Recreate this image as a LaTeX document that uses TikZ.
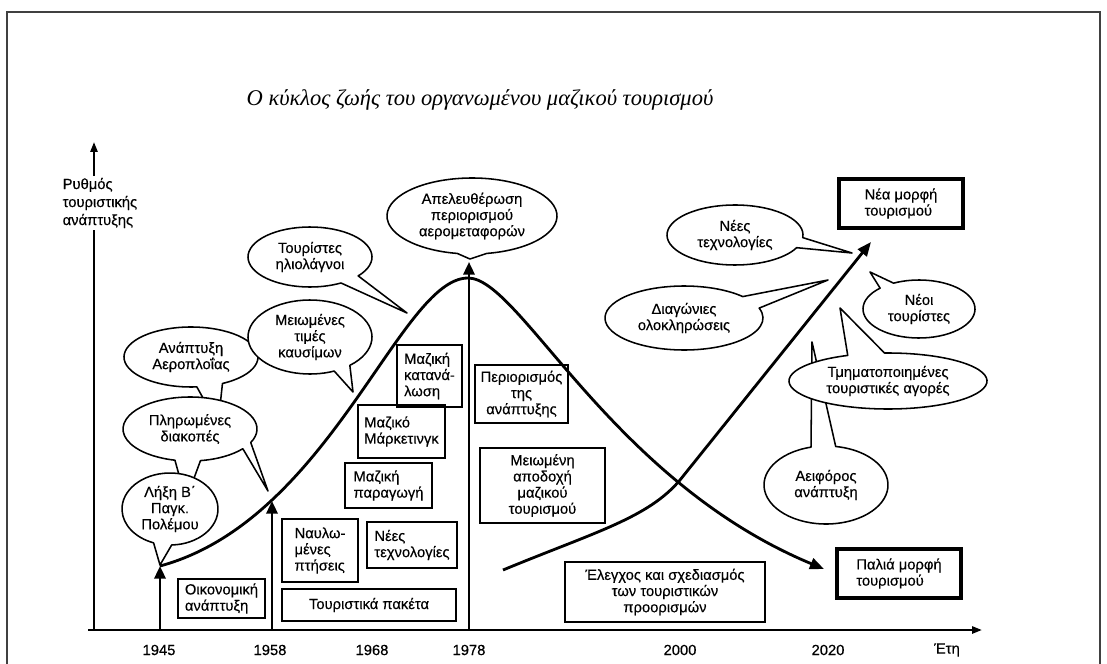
\documentclass[tikz,border=0pt]{standalone}
\usepackage{fontspec}
\setmainfont{Liberation Sans}[FakeBold=0.3]
\newfontfamily\titlefont{Liberation Serif}
\usetikzlibrary{arrows.meta,calc}

\begin{document}
\begin{tikzpicture}[
        x=0.25mm, y=0.25mm,
        font=\fontsize{10.5}{11.5}\selectfont,
        box/.style={rectangle, draw, line width=1.1pt, align=left, inner sep=2pt},
        bigbox/.style={rectangle, draw, line width=3pt, align=left, inner sep=2pt, minimum width=31mm, minimum height=12.25mm},
        bubble/.style={draw, fill=white, line width=1.1pt, line join=round},
        bubtext/.style={align=center, inner sep=0pt},
        year/.style={inner sep=0pt},
        axis/.style={line width=1.6pt, -{Triangle[length=7pt,width=5pt]}},
        event/.style={line width=1.8pt, -{Triangle[length=9pt,width=8pt]}},
        curve/.style={line width=2pt, -{Triangle[length=10pt,width=8pt]}}
    ]
        \useasboundingbox (0,0) rectangle (1107,-664);

        % Frame and title
        \draw[line width=0.8pt, black!75] (7,-664) -- (7,-12) -- (1100,-12) -- (1100,-664);
        \node[font=\titlefont\itshape\fontsize{16}{19}\selectfont] (title) at (480,-100) {Ο κύκλος ζωής του οργανωμένου μαζικού τουρισμού};

        % Left bubbles
        \coordinate (airc) at (191,-357);
        \path[bubble] ($(airc)+(-62:16.75mm and 7.5mm)$) arc[start angle=-62, end angle=275, x radius=16.75mm, y radius=7.5mm] -- (218,-425) -- cycle;
        \node[bubtext] (air) at (airc) {Ανάπτυξη\\Αεροπλοΐας};

        \coordinate (fuelc) at (310,-337);
        \path[bubble] ($(fuelc)+(-50:15.5mm and 9.25mm)$) arc[start angle=-50, end angle=293, x radius=15.5mm, y radius=9.25mm] -- (353,-392) -- cycle;
        \node[bubtext] (fuel) at (fuelc) {Μειωμένες\\τιμές\\καυσίμων};

        \coordinate (paidc) at (190,-429);
        \path[bubble] ($(paidc)+(-25:16.75mm and 8mm)$) arc[start angle=-25, end angle=257, x radius=16.75mm, y radius=8mm] -- (186,-500)
            -- ($(paidc)+(-81:16.75mm and 8mm)$) arc[start angle=-81, end angle=-38, x radius=16.75mm, y radius=8mm] -- (268,-491) -- cycle;
        \node[bubtext] (paid) at (paidc) {Πληρωμένες\\διακοπές};

        \coordinate (warc) at (170,-509);
        \path[bubble] ($(warc)+(-88:12mm and 9mm)$) arc[start angle=-88, end angle=250, x radius=12mm, y radius=9mm] -- (160,-565) -- cycle;
        \node[bubtext] (war) at (warc) {Λήξη Β΄\\Παγκ.\\Πολέμου};

        \coordinate (sunc) at (310,-257);
        \path[bubble] ($(sunc)+(-39:15.5mm and 7.5mm)$) arc[start angle=-39, end angle=300, x radius=15.5mm, y radius=7.5mm] -- (407,-313) -- cycle;
        \node[bubtext] (sun) at (sunc) {Τουρίστες\\ηλιολάγνοι};

        \coordinate (deregc) at (472,-216);
        \path[bubble] ($(deregc)+(-80:21.25mm and 9.5mm)$) arc[start angle=-80, end angle=260, x radius=21.25mm, y radius=9.5mm] -- (470,-259) -- cycle;
        \node[bubtext] (dereg) at (deregc) {Απελευθέρωση\\περιορισμού\\αερομεταφορών};

        % Right bubbles
        \coordinate (sustc) at (826,-485);
        \path[bubble] ($(sustc)+(104:15.5mm and 9.75mm)$) arc[start angle=104, end angle=441, x radius=15.5mm, y radius=9.75mm] -- (812,-342) -- cycle;
        \node[bubtext] (sust) at (sustc) {Αειφόρος\\ανάπτυξη};

        \coordinate (segc) at (888,-381);
        \path[bubble] ($(segc)+(114:24.75mm and 7mm)$) arc[start angle=114, end angle=452, x radius=24.75mm, y radius=7mm] -- (840,-308) -- cycle;
        \node[bubtext] (seg) at (segc) {Τμηματοποιημένες\\τουριστικές αγορές};

        \coordinate (techc) at (735,-235);
        \path[bubble] ($(techc)+(-5:17mm and 7.5mm)$) arc[start angle=-5, end angle=335, x radius=17mm, y radius=7.5mm] -- (852,-253) -- cycle;
        \node[bubtext] (tech) at (techc) {Νέες\\τεχνολογίες};

        \coordinate (diagc) at (684,-318);
        \path[bubble] ($(diagc)+(42:19.75mm and 8mm)$) arc[start angle=42, end angle=378, x radius=19.75mm, y radius=8mm] -- (828,-280) -- cycle;
        \node[bubtext] (diag) at (diagc) {Διαγώνιες\\ολοκληρώσεις};

        \coordinate (touristc) at (919,-309);
        \path[bubble] ($(touristc)+(134:14mm and 7.25mm)$) arc[start angle=134, end angle=477, x radius=14mm, y radius=7.25mm] -- (870,-272) -- cycle;
        \node[bubtext] (tourist) at (touristc) {Νέοι\\τουρίστες};

        % Boxes under the curve
        \node[box, minimum width=21.75mm, minimum height=9.75mm] (econ) at (221.5,-598.5) {Οικονομική\\ανάπτυξη};
        \node[box, minimum width=19mm, minimum height=15.75mm] (charter) at (320,-550.5) {Ναυλω-\\μένες\\πτήσεις};
        \node[box, minimum width=22.5mm, minimum height=11.5mm] (newtech) at (412,-545) {Νέες\\τεχνολογίες};
        \node[box, minimum width=43.5mm, minimum height=8mm] (package) at (369,-605) {Τουριστικά πακέτα};
        \node[box, minimum width=21.75mm, minimum height=11.25mm] (massprod) at (388.5,-485.5) {Μαζική\\παραγωγή};
        \node[box, minimum width=21.75mm, minimum height=13.25mm] (massmkt) at (401.5,-431.5) {Μαζικό\\Μάρκετινγκ};
        \node[box, minimum width=16.25mm, minimum height=15.5mm] (masscons) at (429.5,-376) {Μαζική\\κατανά-\\λωση};
        \node[box, align=center, minimum width=23.25mm, minimum height=14.5mm] (limit) at (521.5,-394) {Περιορισμός\\της\\ανάπτυξης};
        \node[box, align=center, minimum width=31.25mm, minimum height=18.75mm] (reduced) at (542.5,-485.5) {Μειωμένη\\αποδοχή\\μαζικού\\τουρισμού};
        \node[box, align=center, minimum width=50mm, minimum height=15mm] (control) at (665,-592) {Έλεγχος και σχεδιασμός\\των τουριστικών\\προορισμών};

        % Tourism forms
        \node[bigbox] (newform) at (901,-203.5) {Νέα μορφή\\τουρισμού};
        \node[bigbox] (oldform) at (899,-573.5) {Παλιά μορφή\\τουρισμού};

        % Axes
        \coordinate (origin) at (94,-630);
        \coordinate (xstart) at (88,-630);
        \coordinate (xend) at (982,-630);
        \coordinate (ytop) at (94,-142);
        \node[anchor=west, align=left, inner sep=1pt, font=\fontsize{10.5}{12.8}\selectfont] (ylab) at (61,-203) {Ρυθμός\\τουριστικής\\ανάπτυξης};
        \draw[line width=1.6pt] (origin) -- (origin |- ylab.south);
        \draw[axis] (origin |- ylab.north) -- (ytop);
        \draw[axis] (xstart) -- (xend);

        % Years
        \node[year] (y45) at (159,-650) {1945};
        \node[year] (y58) at (270,-650) {1958};
        \node[year] (y68) at (372,-650) {1968};
        \node[year] (y78) at (469,-650) {1978};
        \node[year] (y00) at (680,-650) {2000};
        \node[year] (y20) at (828,-650) {2020};
        \node[year] (years) at (947,-650) {Έτη};

        % Events
        \coordinate (t45) at (160,-566);
        \coordinate (t58) at (272,-501);
        \coordinate (t78) at (469,-262);
        \draw[event] (t45 |- origin) -- (t45);
        \draw[event] (t58 |- origin) -- (t58);
        \draw[event] (t78 |- origin) -- (t78);

        % Life cycle curves
        \coordinate (peak) at (468,-278);
        \coordinate (oldend) at (824,-569);
        \coordinate (newstart) at (503,-570);
        \coordinate (cross) at (680,-480);
        \coordinate (newend) at (871,-242);
        \draw[curve] (t45) .. controls (330,-520) and (400,-278) .. (peak) .. controls (520,-278) and (610,-480) .. (oldend);
        \draw[curve] (newstart) .. controls (595,-532) and (648,-518) .. (cross) -- (newend);

    \end{tikzpicture}
\end{document}
